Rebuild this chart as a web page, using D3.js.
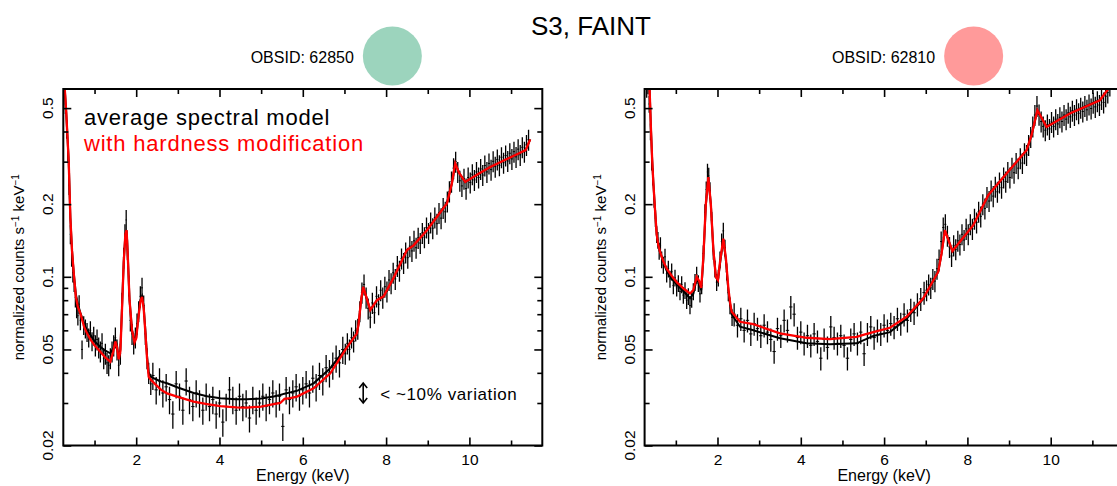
<!DOCTYPE html>
<html><head><meta charset="utf-8">
<script src="https://cdn.jsdelivr.net/npm/d3@7"></script>
<style>
html,body{margin:0;padding:0;background:#fff;}
svg{display:block;font-family:"Liberation Sans",Arial,Helvetica,sans-serif;}
</style></head>
<body>
<svg id="chart" width="1117" height="486"></svg>
<script>
// ---------- DATA ----------
const binEnergy = [
 0.30,0.33,0.36,0.39,0.42,0.45,0.48,0.51,0.54,0.57,0.60,0.63,0.66,0.70,0.74,0.78,0.82,0.86,0.90,0.94,0.98,
 1.02,1.06,1.10,1.14,1.18,1.22,1.26,1.30,1.34,1.38,1.42,1.46,1.50,1.54,1.58,1.62,1.66,1.70,1.73,1.76,1.79,1.82,1.86,1.90,1.94,1.98,2.02,2.06,2.10,2.14,2.18,2.22,2.26,2.30,2.35,
 2.40,2.48,2.56,2.64,2.72,2.80,2.88,2.96,3.04,3.12,3.20,3.28,3.36,3.44,3.52,3.60,3.68,3.76,3.84,3.92,4.00,4.08,4.16,4.24,4.32,4.40,4.48,4.56,4.64,4.72,4.80,4.88,4.96,5.04,5.12,5.20,5.28,5.36,5.44,5.52,5.60,5.68,5.76,5.84,5.92,6.00,6.08,6.16,6.24,6.32,6.40,6.48,6.56,6.64,6.72,6.80,6.88,6.96,
 7.02,7.07,7.12,7.17,7.22,7.27,7.32,7.37,7.42,7.47,7.52,7.57,7.62,7.67,7.72,7.77,7.82,7.87,7.92,7.97,8.02,8.07,8.12,8.17,8.22,8.27,8.32,8.37,8.42,8.47,8.52,8.57,8.62,8.67,8.72,8.77,8.82,8.87,8.92,8.97,9.02,9.07,9.12,9.17,9.22,9.27,9.32,9.37,9.42,9.47,9.52,9.57,9.62,9.67,9.72,9.77,9.82,9.87,9.92,9.97,10.02,10.07,10.12,10.17,10.22,10.27,10.32,10.37,10.42,10.47,10.52,10.57,10.62,10.67,10.72,10.77,10.82,10.87,10.92,10.97,11.02,11.07,11.12,11.17,11.22,11.27,11.32,11.37,11.42
];

const rate62850 = [
 0.52,0.41,0.33,0.24,0.150,0.121,0.104,0.095,0.082,0.074,0.069,0.077,0.066,0.050,0.063,0.061,0.059,0.056,0.060,0.054,0.057,
 0.052,0.055,0.051,0.049,0.053,0.046,0.048,0.044,0.043,0.046,0.049,0.052,0.056,0.050,0.043,0.048,0.078,0.120,0.150,0.172,0.130,0.092,0.066,0.058,0.053,0.056,0.064,0.072,0.083,0.090,0.076,0.058,0.046,0.040,0.036,
 0.039,0.034,0.037,0.033,0.035,0.031,0.027,0.036,0.032,0.028,0.037,0.031,0.029,0.033,0.030,0.028,0.032,0.029,0.031,0.027,0.030,0.025,0.029,0.034,0.031,0.028,0.032,0.029,0.030,0.026,0.031,0.028,0.030,0.032,0.029,0.031,0.033,0.030,0.032,0.024,0.034,0.031,0.033,0.035,0.032,0.034,0.036,0.033,0.038,0.035,0.039,0.037,0.042,0.040,0.043,0.046,0.044,0.050,
 0.048,0.053,0.050,0.056,0.054,0.060,0.061,0.072,0.086,0.093,0.082,0.074,0.068,0.078,0.071,0.083,0.077,0.088,0.082,0.091,0.087,0.097,0.094,0.104,0.098,0.111,0.106,0.119,0.114,0.126,0.120,0.134,0.128,0.141,0.132,0.145,0.138,0.152,0.146,0.160,0.152,0.168,0.159,0.176,0.166,0.184,0.175,0.193,0.186,0.205,0.226,0.248,0.282,0.300,0.272,0.250,0.238,0.255,0.232,0.258,0.246,0.266,0.252,0.272,0.258,0.280,0.264,0.289,0.272,0.295,0.278,0.301,0.286,0.306,0.290,0.313,0.297,0.318,0.302,0.325,0.308,0.330,0.314,0.338,0.320,0.344,0.330,0.352,0.370
];

const rate62810 = [
 0.60,0.62,0.52,0.40,0.30,0.26,0.21,0.175,0.150,0.142,0.128,0.135,0.118,0.112,0.121,0.103,0.108,0.098,0.105,0.092,0.099,
 0.090,0.094,0.087,0.093,0.084,0.088,0.080,0.083,0.076,0.081,0.087,0.095,0.102,0.094,0.085,0.092,0.125,0.185,0.230,0.272,0.262,0.228,0.172,0.128,0.108,0.095,0.099,0.118,0.140,0.155,0.132,0.105,0.086,0.076,0.068,
 0.070,0.063,0.067,0.060,0.066,0.058,0.064,0.061,0.057,0.063,0.059,0.055,0.049,0.061,0.057,0.066,0.060,0.075,0.070,0.056,0.059,0.053,0.057,0.052,0.058,0.054,0.046,0.055,0.051,0.062,0.056,0.053,0.057,0.052,0.046,0.055,0.058,0.053,0.059,0.048,0.058,0.062,0.056,0.060,0.058,0.063,0.060,0.064,0.062,0.067,0.064,0.070,0.066,0.073,0.071,0.077,0.081,0.086,
 0.088,0.093,0.090,0.098,0.096,0.108,0.118,0.140,0.160,0.165,0.148,0.133,0.122,0.135,0.130,0.141,0.136,0.150,0.142,0.158,0.150,0.165,0.158,0.174,0.168,0.186,0.178,0.200,0.192,0.214,0.206,0.228,0.216,0.236,0.225,0.246,0.234,0.258,0.248,0.272,0.258,0.283,0.270,0.296,0.282,0.310,0.296,0.325,0.320,0.352,0.380,0.420,0.468,0.510,0.470,0.440,0.420,0.405,0.428,0.410,0.438,0.420,0.450,0.430,0.458,0.440,0.468,0.450,0.478,0.460,0.488,0.468,0.495,0.476,0.502,0.484,0.510,0.492,0.518,0.498,0.526,0.506,0.534,0.515,0.546,0.528,0.560,0.580,0.620
];

// fractional 1-sigma error of each energy band (band upper edges in keV)
const errBandEdges = [1.0, 2.38, 7.0, 12];
const errFrac62850 = [0.09, 0.10, 0.13, 0.10];
const errFrac62810 = [0.08, 0.08, 0.11, 0.10];

// model curves
const modelE62850 = [0.28,0.32,0.35,0.38,0.42,0.46,0.50,0.55,0.60,0.66,0.75,0.82,0.90,1.00,1.14,1.25,1.38,1.45,1.50,1.54,1.58,1.62,1.66,1.70,1.74,1.77,1.80,1.84,1.90,1.96,2.00,2.05,2.10,2.14,2.18,2.22,2.26,2.30,2.36,2.45,2.60,2.74,3.00,3.38,3.70,4.02,4.40,4.66,5.00,5.30,5.46,5.56,5.70,5.86,6.26,6.66,7.06,7.30,7.34,7.40,7.45,7.52,7.62,7.78,7.94,8.18,8.50,8.66,8.98,9.46,9.58,9.66,9.75,9.90,10.20,10.50,10.80,11.18,11.35,11.46];
const avgModel62850 = [0.62,0.48,0.38,0.30,0.175,0.128,0.104,0.085,0.077,0.071,0.064,0.060,0.0575,0.054,0.0513,0.0495,0.0482,0.0505,0.0547,0.052,0.0459,0.050,0.075,0.115,0.150,0.156,0.120,0.080,0.060,0.0545,0.056,0.068,0.080,0.083,0.075,0.060,0.047,0.0400,0.0385,0.0378,0.0368,0.0362,0.0348,0.0330,0.0320,0.0314,0.0311,0.0311,0.0313,0.0319,0.0324,0.0328,0.0332,0.0337,0.0362,0.0418,0.0513,0.0583,0.0640,0.0800,0.0909,0.0830,0.0728,0.0800,0.0830,0.0990,0.1290,0.1350,0.1560,0.2014,0.244,0.295,0.270,0.247,0.266,0.285,0.302,0.324,0.335,0.371];
const hardModel62850 = [0.62,0.48,0.38,0.30,0.175,0.128,0.104,0.083,0.075,0.0705,0.062,0.0583,0.055,0.052,0.0489,0.0465,0.0445,0.049,0.054,0.051,0.0455,0.049,0.074,0.114,0.150,0.156,0.120,0.080,0.060,0.0535,0.0555,0.067,0.079,0.0826,0.074,0.059,0.046,0.0385,0.0373,0.0360,0.0340,0.0329,0.0318,0.0304,0.0297,0.0291,0.0288,0.0287,0.0290,0.0297,0.0300,0.0312,0.0314,0.0319,0.0345,0.0398,0.0510,0.0583,0.0640,0.0800,0.0909,0.0830,0.0728,0.0800,0.0830,0.0990,0.1290,0.1350,0.1560,0.2014,0.244,0.295,0.270,0.247,0.266,0.285,0.302,0.324,0.335,0.371];

const modelE62810 = [0.30,0.33,0.37,0.40,0.43,0.46,0.50,0.54,0.58,0.62,0.70,0.78,0.90,1.02,1.20,1.34,1.42,1.50,1.56,1.61,1.66,1.72,1.78,1.84,1.90,1.96,2.01,2.06,2.14,2.20,2.26,2.30,2.34,2.54,2.86,3.50,4.14,4.70,5.34,5.50,5.74,6.14,6.54,6.94,7.30,7.38,7.46,7.64,8.14,8.50,8.94,9.42,9.54,9.68,9.90,10.46,11.18,11.38];
const avgModel62810 = [1.10,0.85,0.60,0.42,0.31,0.245,0.19,0.150,0.135,0.127,0.115,0.106,0.098,0.093,0.0865,0.0816,0.085,0.098,0.094,0.088,0.118,0.198,0.259,0.200,0.130,0.100,0.096,0.113,0.143,0.118,0.088,0.0775,0.0700,0.0621,0.0601,0.0556,0.0530,0.0525,0.0530,0.0545,0.0569,0.0590,0.0670,0.0810,0.105,0.125,0.156,0.1278,0.1637,0.2178,0.268,0.3346,0.386,0.49,0.418,0.475,0.539,0.60];
const hardModel62810 = [1.10,0.85,0.60,0.42,0.31,0.245,0.19,0.150,0.135,0.127,0.116,0.108,0.101,0.095,0.089,0.0853,0.088,0.100,0.096,0.090,0.120,0.200,0.259,0.200,0.130,0.100,0.097,0.115,0.144,0.120,0.090,0.0788,0.0716,0.0651,0.0636,0.0583,0.0559,0.0552,0.0564,0.0575,0.0590,0.0615,0.0683,0.0814,0.105,0.125,0.156,0.1278,0.1637,0.2178,0.268,0.3346,0.386,0.49,0.418,0.475,0.539,0.60];

const xMajorTicks = [2,4,6,8,10];
const xMinorTicks = [1,3,5,7,9,11];
const yMajorTicks = [0.02,0.05,0.1,0.2,0.5];
const yMinorTicks = [0.03,0.04,0.06,0.07,0.08,0.09,0.3,0.4];
const yTickLabels = ["0.02","0.05","0.1","0.2","0.5"];

const panels = [
  {obsid:"OBSID: 62850", color:"#9cd4bd", rate:rate62850, err:errFrac62850, mE:modelE62850, avg:avgModel62850, hard:hardModel62850, left:63.3, legend:true, rightAxis:true},
  {obsid:"OBSID: 62810", color:"#ff9a9a", rate:rate62810, err:errFrac62810, mE:modelE62810, avg:avgModel62810, hard:hardModel62810, left:644.6, legend:false, rightAxis:false}
];

// ---------- LAYOUT ----------
const svg = d3.select("#chart");
const W = 479, H = 356.5, TOP = 89;
const x = d3.scaleLinear().domain([0.25, 11.75]).range([0, W]);
const y = d3.scaleLog().domain([0.02, 0.6]).range([H, 0]);

svg.append("text").attr("x", 591).attr("y", 35).attr("text-anchor","middle")
  .attr("font-size", 26).text("S3, FAINT");

panels.forEach((p, pi) => {
  const g = svg.append("g").attr("transform", `translate(${p.left},${TOP})`);
  const clipId = "clip" + pi;
  svg.append("clipPath").attr("id", clipId).append("rect").attr("x",0).attr("y",0).attr("width",W).attr("height",H);

  // header: obsid + circle
  const cx = x(8.15);
  g.append("circle").attr("cx", cx).attr("cy", 56 - TOP).attr("r", 29.5).attr("fill", p.color);
  g.append("text").attr("x", cx - 38.5).attr("y", 63.3 - TOP).attr("text-anchor","end")
    .attr("font-size", 16).text(p.obsid);

  const plot = g.append("g").attr("clip-path", `url(#${clipId})`);

  // data points with error bars
  const bandOf = e => errBandEdges.findIndex(b => e <= b);
  const pts = binEnergy.map((e, i) => {
    const lo = i > 0 ? (e + binEnergy[i-1]) / 2 : e - (binEnergy[1]-binEnergy[0]) / 2;
    const hi = i < binEnergy.length-1 ? (e + binEnergy[i+1]) / 2 : e + (e - binEnergy[i-1]) / 2;
    const f = p.err[bandOf(e)];
    return {e, lo, hi, v: p.rate[i], f};
  });
  const dg = plot.append("g").attr("stroke","#000").attr("stroke-width",1.3);
  dg.selectAll("line.v").data(pts).join("line").attr("class","v")
    .attr("x1", d => x(d.e)).attr("x2", d => x(d.e))
    .attr("y1", d => y(d.v * (1 - d.f))).attr("y2", d => y(d.v * (1 + d.f)));
  dg.selectAll("line.h").data(pts).join("line").attr("class","h")
    .attr("stroke-width",1)
    .attr("x1", d => x(d.lo)).attr("x2", d => x(d.hi))
    .attr("y1", d => y(d.v)).attr("y2", d => y(d.v));

  const line = d3.line().x(d => x(d[0])).y(d => y(d[1]));
  plot.append("path").datum(p.mE.map((e,i)=>[e,p.avg[i]])).attr("d", line)
    .attr("fill","none").attr("stroke","#000").attr("stroke-width",2);
  plot.append("path").datum(p.mE.map((e,i)=>[e,p.hard[i]])).attr("d", line)
    .attr("fill","none").attr("stroke","#ff0000").attr("stroke-width",2.3);

  // axes
  const bottomMaj = d3.axisBottom(x).tickValues(xMajorTicks).tickSizeInner(-8).tickSizeOuter(0).tickPadding(8).tickFormat(d3.format("d"));
  const bottomMin = d3.axisBottom(x).tickValues(xMinorTicks).tickSizeInner(-5).tickSizeOuter(0).tickFormat("");
  const topMaj = d3.axisTop(x).tickValues(xMajorTicks).tickSizeInner(-8).tickSizeOuter(0).tickFormat("");
  const topMin = d3.axisTop(x).tickValues(xMinorTicks).tickSizeInner(-5).tickSizeOuter(0).tickFormat("");
  const leftMaj = d3.axisLeft(y).tickValues(yMajorTicks).tickSizeInner(-8).tickSizeOuter(0).tickFormat("");
  const leftMin = d3.axisLeft(y).tickValues(yMinorTicks).tickSizeInner(-5).tickSizeOuter(0).tickFormat("");
  const rightMaj = d3.axisRight(y).tickValues(yMajorTicks).tickSizeInner(-8).tickSizeOuter(0).tickFormat("");
  const rightMin = d3.axisRight(y).tickValues(yMinorTicks).tickSizeInner(-5).tickSizeOuter(0).tickFormat("");

  const styleAxis = sel => {
    sel.select(".domain").remove();
    sel.selectAll(".tick line").attr("stroke","#000").attr("stroke-width",1.6);
    sel.selectAll(".tick text").attr("font-size",15.5).attr("font-family","Liberation Sans, Arial, sans-serif").attr("fill","#000");
  };
  g.append("g").attr("transform",`translate(0,${H})`).call(bottomMaj).call(styleAxis);
  g.append("g").attr("transform",`translate(0,${H})`).call(bottomMin).call(styleAxis);
  g.append("g").call(topMaj).call(styleAxis);
  g.append("g").call(topMin).call(styleAxis);
  g.append("g").call(leftMaj).call(styleAxis);
  g.append("g").call(leftMin).call(styleAxis);
  if (p.rightAxis) {
    g.append("g").attr("transform",`translate(${W},0)`).call(rightMaj).call(styleAxis);
    g.append("g").attr("transform",`translate(${W},0)`).call(rightMin).call(styleAxis);
  }

  // y tick labels (rotated)
  g.selectAll("text.ylab").data(yMajorTicks).join("text").attr("class","ylab")
    .attr("transform", d => `translate(-10,${y(d)}) rotate(-90)`)
    .attr("text-anchor","middle").attr("font-size",15.5)
    .text((d,i) => yTickLabels[i]);

  // frame
  g.append("rect").attr("x",0).attr("y",0).attr("width",W).attr("height",H)
    .attr("fill","none").attr("stroke","#000").attr("stroke-width",2);

  // axis titles
  g.append("text").attr("x", W/2).attr("y", 481 - TOP).attr("text-anchor","middle")
    .attr("font-size",16).text("Energy (keV)");
  const yl = g.append("text").attr("transform",`translate(-39,${H/2}) rotate(-90)`)
    .attr("text-anchor","middle").attr("font-size",15);
  yl.append("tspan").text("normalized counts s");
  yl.append("tspan").attr("dy",-5).attr("font-size",10).text("−1");
  yl.append("tspan").attr("dy",5).text(" keV");
  yl.append("tspan").attr("dy",-5).attr("font-size",10).text("−1");

  if (p.legend) {
    g.append("text").attr("x", 84 - p.left).attr("y", 125 - TOP).attr("font-size",22)
      .attr("letter-spacing",0.8).attr("fill","#000").text("average spectral model");
    g.append("text").attr("x", 84 - p.left).attr("y", 150.7 - TOP).attr("font-size",22)
      .attr("letter-spacing",0.8).attr("fill","#ff0000").text("with hardness modification");
    // variation annotation
    const ax = x(7.45), y1 = y(0.0363), y2 = y(0.030);
    const ag = g.append("g").attr("stroke","#000").attr("stroke-width",1.6).attr("fill","none");
    ag.append("line").attr("x1",ax).attr("x2",ax).attr("y1",y1+1).attr("y2",y2-1);
    ag.append("path").attr("d",`M${ax-4},${y1+5}L${ax},${y1}L${ax+4},${y1+5}`);
    ag.append("path").attr("d",`M${ax-4},${y2-5}L${ax},${y2}L${ax+4},${y2-5}`);
    g.append("text").attr("x", ax + 17).attr("y", 400 - TOP).attr("font-size",17)
      .attr("letter-spacing",0.6).text("< ~10% variation");
  }
});
</script>
</body></html>
